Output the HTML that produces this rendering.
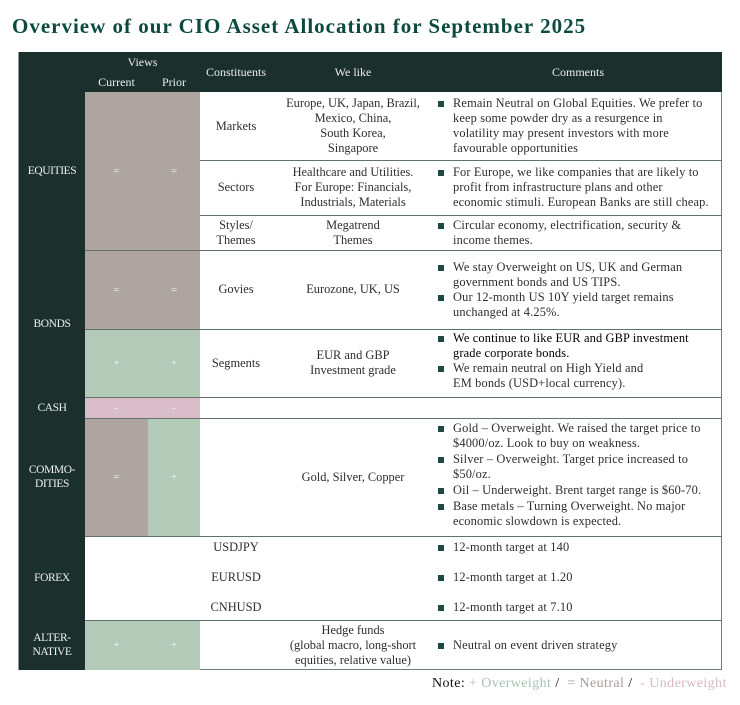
<!DOCTYPE html>
<html>
<head>
<meta charset="utf-8">
<style>
  html,body{margin:0;padding:0;background:#fff;}
  body{width:740px;height:705px;position:relative;overflow:hidden;font-family:"Liberation Serif",serif;color:#2e2e2e;}
  .a{position:absolute;}
  .title{left:12px;top:16px;font-size:21px;line-height:21px;font-weight:bold;color:#0c4a3f;letter-spacing:1px;white-space:nowrap;}
  .dark{background:#1b302d;}
  .hd{color:#e9edea;font-size:12px;line-height:15px;text-align:center;white-space:nowrap;}
  .lbl{color:#eef0ee;font-size:11.5px;line-height:14px;text-align:center;white-space:nowrap;left:19px;width:66px;letter-spacing:-0.4px;}
  .cell{display:flex;align-items:center;justify-content:center;text-align:center;font-size:12.4px;line-height:15px;white-space:nowrap;}
  .sym{display:flex;align-items:center;justify-content:center;color:#f3f1ef;font-size:11px;}
  .g{background:#aea5a0;}
  .gr{background:#b3cab9;}
  .pk{background:#d9bdc9;}
  .com{left:434px;width:288px;display:flex;flex-direction:column;justify-content:center;font-size:12.4px;letter-spacing:0.15px;line-height:15px;white-space:nowrap;}
  .b{position:relative;padding-left:19px;}
  .b:before{content:"";position:absolute;left:4px;top:5px;width:6px;height:6px;background:#1d4a42;}
  .hl{height:1px;background:#5f726c;}
  .cm .b{margin-bottom:1px;}
</style>
</head>
<body>
<div class="a title">Overview of our CIO Asset Allocation for September 2025</div>

<!-- table frame -->
<div class="a" style="left:18px;top:52px;width:704px;height:618px;border-right:1px solid #6d7d78;border-bottom:1px solid #6d7d78;border-left:1px solid #8f9a97;box-sizing:border-box;"></div>
<div class="a dark" style="left:19px;top:52px;width:703px;height:40px;"></div>
<div class="a dark" style="left:19px;top:52px;width:66px;height:618px;"></div>

<!-- header text -->
<div class="a hd" style="left:85px;top:55px;width:115px;">Views</div>
<div class="a hd" style="left:85px;top:75px;width:63px;">Current</div>
<div class="a hd" style="left:148px;top:75px;width:52px;">Prior</div>
<div class="a hd" style="left:200px;top:65px;width:72px;">Constituents</div>
<div class="a hd" style="left:272px;top:65px;width:162px;">We like</div>
<div class="a hd" style="left:434px;top:65px;width:288px;">Comments</div>

<!-- views cells -->
<div class="a g" style="left:85px;top:92px;width:115px;height:158px;"></div>
<div class="a sym" style="left:85px;top:92px;width:63px;height:158px;">=</div>
<div class="a sym" style="left:148px;top:92px;width:52px;height:158px;">=</div>

<div class="a g" style="left:85px;top:250px;width:115px;height:79px;"></div>
<div class="a sym" style="left:85px;top:250px;width:63px;height:79px;">=</div>
<div class="a sym" style="left:148px;top:250px;width:52px;height:79px;">=</div>

<div class="a gr" style="left:85px;top:329px;width:115px;height:68px;"></div>
<div class="a sym" style="left:85px;top:329px;width:63px;height:68px;">+</div>
<div class="a sym" style="left:148px;top:329px;width:52px;height:68px;">+</div>

<div class="a pk" style="left:85px;top:397px;width:115px;height:21px;"></div>
<div class="a sym" style="left:85px;top:397px;width:63px;height:21px;">-</div>
<div class="a sym" style="left:148px;top:397px;width:52px;height:21px;">-</div>

<div class="a g" style="left:85px;top:418px;width:63px;height:118px;"></div>
<div class="a gr" style="left:148px;top:418px;width:52px;height:118px;"></div>
<div class="a sym" style="left:85px;top:418px;width:63px;height:118px;">=</div>
<div class="a sym" style="left:148px;top:418px;width:52px;height:118px;">+</div>

<div class="a gr" style="left:85px;top:620px;width:115px;height:50px;"></div>
<div class="a sym" style="left:85px;top:620px;width:63px;height:50px;">+</div>
<div class="a sym" style="left:148px;top:620px;width:52px;height:50px;">+</div>

<!-- horizontal lines -->
<div class="a hl" style="left:200px;top:160px;width:522px;"></div>
<div class="a hl" style="left:200px;top:215px;width:522px;"></div>
<div class="a hl" style="left:85px;top:250px;width:637px;"></div>
<div class="a hl" style="left:85px;top:329px;width:637px;"></div>
<div class="a hl" style="left:85px;top:397px;width:637px;"></div>
<div class="a hl" style="left:85px;top:418px;width:637px;"></div>
<div class="a hl" style="left:85px;top:536px;width:637px;"></div>
<div class="a hl" style="left:85px;top:620px;width:637px;"></div>

<!-- left labels -->
<div class="a lbl" style="top:164px;">EQUITIES</div>
<div class="a lbl" style="top:317px;">BONDS</div>
<div class="a lbl" style="top:401px;">CASH</div>
<div class="a lbl" style="top:463px;">COMMO-<br>DITIES</div>
<div class="a lbl" style="top:571px;">FOREX</div>
<div class="a lbl" style="top:631px;">ALTER-<br>NATIVE</div>

<!-- Equities -->
<div class="a cell" style="left:200px;top:92px;width:72px;height:68px;">Markets</div>
<div class="a cell" style="left:272px;top:92px;width:162px;height:68px;">Europe, UK, Japan, Brazil,<br>Mexico, China,<br>South Korea,<br>Singapore</div>
<div class="a com" style="top:92px;height:68px;"><div class="b">Remain Neutral on Global Equities. We prefer to<br>keep some powder dry as a resurgence in<br>volatility may present investors with more<br>favourable opportunities</div></div>

<div class="a cell" style="left:200px;top:160px;width:72px;height:55px;">Sectors</div>
<div class="a cell" style="left:272px;top:160px;width:162px;height:55px;">Healthcare and Utilities.<br>For Europe: Financials,<br>Industrials, Materials</div>
<div class="a com" style="top:160px;height:55px;"><div class="b">For Europe, we like companies that are likely to<br>profit from infrastructure plans and other<br>economic stimuli. European Banks are still cheap.</div></div>

<div class="a cell" style="left:200px;top:215px;width:72px;height:35px;">Styles/<br>Themes</div>
<div class="a cell" style="left:272px;top:215px;width:162px;height:35px;">Megatrend<br>Themes</div>
<div class="a com" style="top:215px;height:35px;"><div class="b">Circular economy, electrification, security &amp;<br>income themes.</div></div>

<!-- Bonds -->
<div class="a cell" style="left:200px;top:250px;width:72px;height:79px;">Govies</div>
<div class="a cell" style="left:272px;top:250px;width:162px;height:79px;">Eurozone, UK, US</div>
<div class="a com" style="top:250px;height:79px;"><div class="b">We stay Overweight on US, UK and German<br>government bonds and US TIPS.</div><div class="b">Our 12-month US 10Y yield target remains<br>unchanged at 4.25%.</div></div>

<div class="a cell" style="left:200px;top:329px;width:72px;height:68px;">Segments</div>
<div class="a cell" style="left:272px;top:329px;width:162px;height:68px;">EUR and GBP<br>Investment grade</div>
<div class="a com" style="top:329px;height:68px;padding-bottom:4px;box-sizing:border-box;"><div class="b" style="color:#000;">We continue to like EUR and GBP investment<br>grade corporate bonds.</div><div class="b">We remain neutral on High Yield and<br>EM bonds (USD+local currency).</div></div>

<!-- Commodities -->
<div class="a cell" style="left:272px;top:418px;width:162px;height:118px;">Gold, Silver, Copper</div>
<div class="a com cm" style="top:418px;height:118px;padding-bottom:4px;box-sizing:border-box;"><div class="b">Gold – Overweight. We raised the target price to<br>$4000/oz. Look to buy on weakness.</div><div class="b">Silver – Overweight. Target price increased to<br>$50/oz.</div><div class="b">Oil – Underweight. Brent target range is $60-70.</div><div class="b">Base metals – Turning Overweight. No major<br>economic slowdown is expected.</div></div>

<!-- Forex -->
<div class="a cell" style="left:200px;top:540px;width:72px;height:15px;">USDJPY</div>
<div class="a cell" style="left:200px;top:570px;width:72px;height:15px;">EURUSD</div>
<div class="a cell" style="left:200px;top:600px;width:72px;height:15px;">CNHUSD</div>
<div class="a com" style="top:540px;height:15px;"><div class="b">12-month target at 140</div></div>
<div class="a com" style="top:570px;height:15px;"><div class="b">12-month target at 1.20</div></div>
<div class="a com" style="top:600px;height:15px;"><div class="b">12-month target at 7.10</div></div>

<!-- Alternative -->
<div class="a cell" style="left:272px;top:620px;width:162px;height:50px;">Hedge funds<br>(global macro, long-short<br>equities, relative value)</div>
<div class="a com" style="top:620px;height:50px;"><div class="b">Neutral on event driven strategy</div></div>

<!-- Note -->
<div class="a" style="left:432px;top:676px;font-size:14px;letter-spacing:0.4px;line-height:16px;white-space:pre;color:#111;">Note: <span style="color:#a9c4b2;">+ Overweight</span> /  <span style="color:#a89e98;">= Neutral</span> /  <span style="color:#d9b9c6;">- Underweight</span></div>
</body>
</html>
